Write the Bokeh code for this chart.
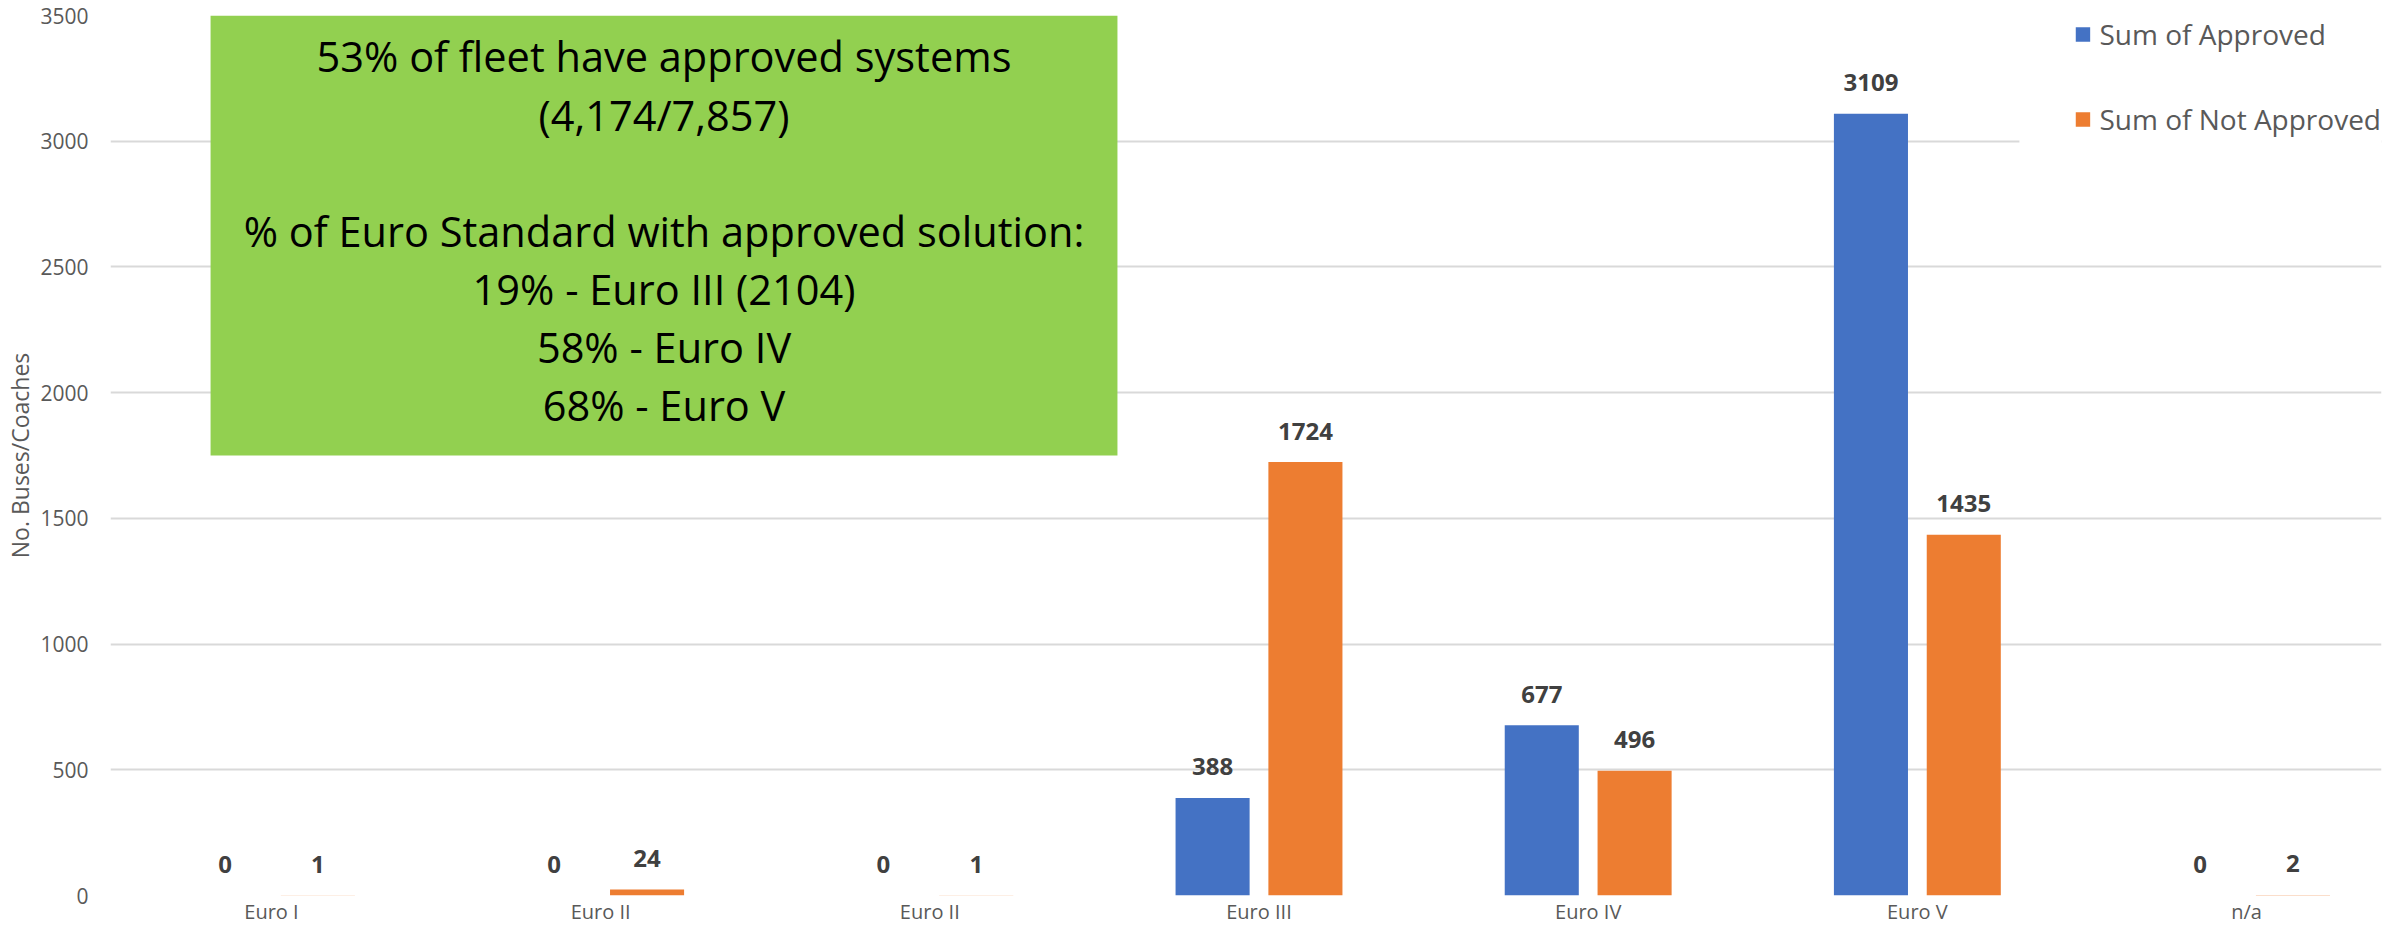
import numpy as np
from bokeh.plotting import figure
from bokeh.models import (Range1d, FixedTicker, BoxAnnotation, Label,
                          ColumnDataSource)
from bokeh.core.properties import value
from bokeh.embed import file_html
from bokeh.resources import INLINE

# ---------------- data ----------------
categories = ["Euro I", "Euro II", "Euro II", "Euro III", "Euro IV", "Euro V", "n/a"]
approved = [0, 0, 0, 388, 677, 3109, 0]
not_approved = [1, 24, 1, 1724, 496, 1435, 2]
y_ticks = [0, 500, 1000, 1500, 2000, 2500, 3000, 3500]
series_names = ["Sum of Approved", "Sum of Not Approved"]
note_lines = [
    "53% of fleet have approved systems",
    "(4,174/7,857)",
    "",
    "% of Euro Standard with approved solution:",
    "19% - Euro III (2104)",
    "58% - Euro IV",
    "68% - Euro V",
]

# ---------------- styles ----------------
BLUE = "#4472C4"
ORANGE = "#ED7D31"
GREEN = "#92D050"
GRAY = "#595959"
DARK = "#404040"
GRID = "#D9D9D9"
FONT = "Open Sans"

idx = np.arange(len(categories))
offset = 0.141
bar_w = 0.225

src = ColumnDataSource(dict(
    xa=idx - offset,
    xn=idx + offset,
    approved=approved,
    not_approved=not_approved,
    approved_lbl=[str(v) for v in approved],
    not_approved_lbl=[str(v) for v in not_approved],
))

p = figure(width=2391, height=927, output_backend="svg", toolbar_location=None,
           x_range=Range1d(-0.489, 6.410), y_range=Range1d(0, 3500),
           min_border_left=110, min_border_right=10, min_border_top=15,
           min_border_bottom=29)
p.outline_line_color = None
p.background_fill_color = "white"

# grid
p.xgrid.grid_line_color = None
p.ygrid.grid_line_color = GRID
p.ygrid.grid_line_width = 2
p.yaxis.ticker = FixedTicker(ticks=y_ticks)
p.xaxis.ticker = FixedTicker(ticks=list(idx))
p.xaxis.major_label_overrides = {int(i): c for i, c in zip(idx, categories)}

for ax in (p.xaxis[0], p.yaxis[0]):
    ax.axis_line_color = None
    ax.major_tick_line_color = None
    ax.minor_tick_line_color = None
    ax.major_tick_out = 0
    ax.major_tick_in = 0
    ax.minor_tick_out = 0
    ax.minor_tick_in = 0
    ax.major_label_text_font = FONT
    ax.major_label_text_color = GRAY

p.yaxis.major_label_text_font_size = "21px"
p.yaxis.major_label_standoff = 22
p.xaxis.major_label_text_font_size = "20px"
p.xaxis.major_label_standoff = 2
p.yaxis.axis_label = "No. Buses/Coaches"
p.yaxis.axis_label_text_font = FONT
p.yaxis.axis_label_text_font_size = "23px"
p.yaxis.axis_label_text_font_style = "normal"
p.yaxis.axis_label_text_color = GRAY
p.yaxis.axis_label_standoff = 1

# bars
p.vbar(x="xa", top="approved", width=bar_w, source=src, color=BLUE,
       line_color=None, legend_label=series_names[0])
p.vbar(x="xn", top="not_approved", width=bar_w, source=src, color=ORANGE,
       line_color=None, legend_label=series_names[1])

# data labels
for xcol, tcol in (("xa", "approved_lbl"), ("xn", "not_approved_lbl")):
    ycol = tcol.replace("_lbl", "")
    p.text(x=xcol, y=ycol, text=tcol, source=src, text_align="center",
           text_baseline="alphabetic", y_offset=-31,
           text_font=value(FONT), text_font_style="bold",
           text_font_size=value("24px"), text_color=DARK)

# white area behind legend (legend box in original covers gridlines)
p.add_layout(BoxAnnotation(left=5.31, bottom=2886, fill_color="white",
                           fill_alpha=1, line_color=None, level="annotation"))

# green note box
box_left, box_right = -0.185, 2.570
p.add_layout(BoxAnnotation(left=box_left, right=box_right, bottom=1750, top=3500,
                           fill_color=GREEN, fill_alpha=1, line_color=None))
cx = (box_left + box_right) / 2
first_y = 3337
step = 231
for i, line in enumerate(note_lines):
    if not line:
        continue
    p.add_layout(Label(x=cx, y=first_y - i * step, text=line,
                       text_align="center", text_baseline="middle",
                       text_font=FONT, text_font_size="41.5px",
                       text_color="black"))

# legend
lg = p.legend[0]
lg.location = "top_right"
lg.margin = 0
lg.padding = 24
lg.spacing = 47
lg.glyph_width = 18
lg.glyph_height = 18
lg.label_height = 32
lg.label_standoff = 8
lg.label_text_font = FONT
lg.label_text_font_size = "28px"
lg.label_text_color = GRAY
lg.border_line_color = None
lg.background_fill_color = "white"
lg.background_fill_alpha = 1

open("out.html", "w").write(file_html(p, INLINE))
